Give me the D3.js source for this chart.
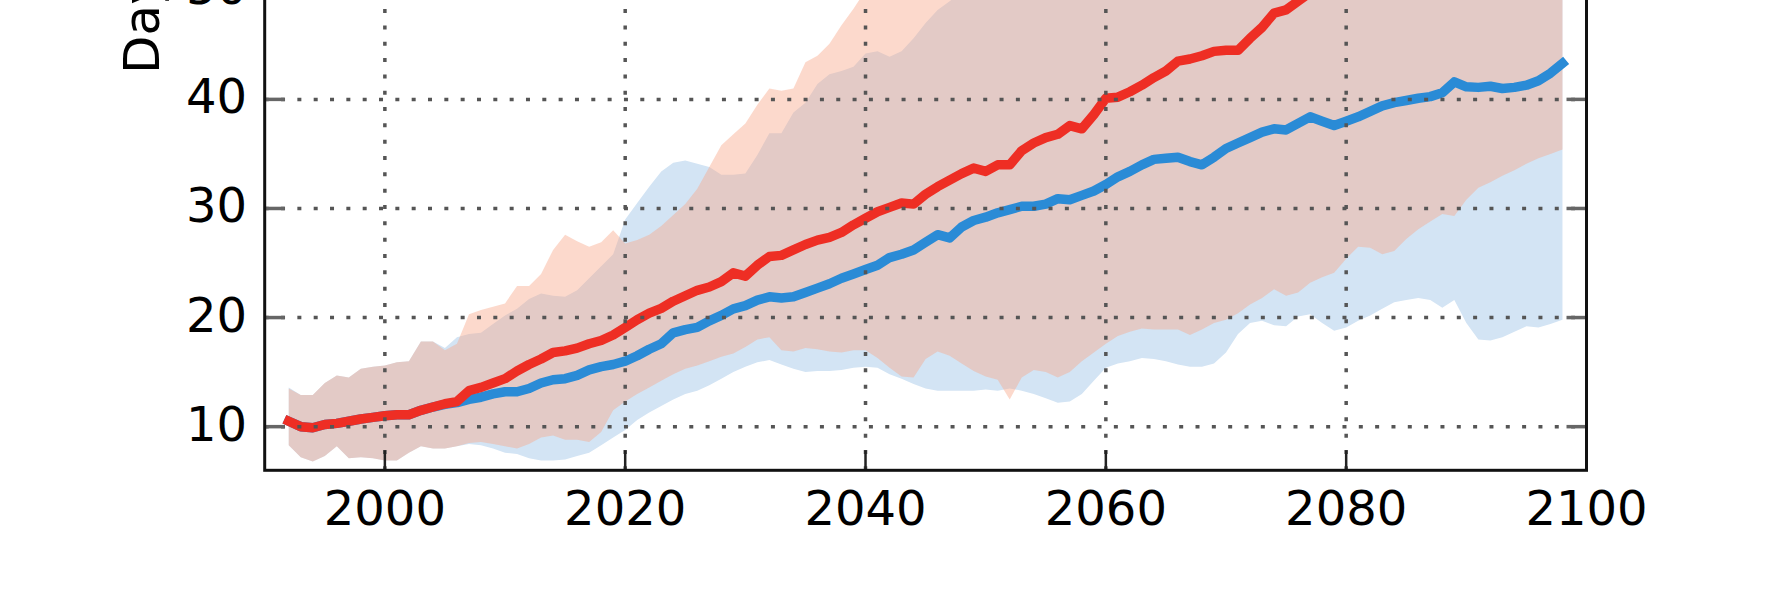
<!DOCTYPE html>
<html>
<head>
<meta charset="utf-8">
<script src="https://cdn.jsdelivr.net/npm/d3@7"></script>
<style>
  html, body { margin: 0; padding: 0; background: #fff; }
  svg { display: block; }
  text { font-family: "DejaVu Sans", sans-serif; fill: #000; }
</style>
</head>
<body>
<svg id="chart" width="1767" height="590"></svg>
<script>
// ---------------- data ----------------
const years = d3.range(1992, 2099);           // 1992 ... 2098
const xTicks = [2000, 2020, 2040, 2060, 2080, 2100];
const yTicks = [10, 20, 30, 40, 50, 60, 70, 80];
const yLabel = "Days per year";

// red scenario: ensemble mean
const redMean = [
  10.5, 10.0, 9.9, 10.2, 10.3, 10.5, 10.7, 10.85,
  11.0, 11.1, 11.1, 11.5, 11.8, 12.1, 12.3, 13.3, 13.6, 14.0,
  14.4, 15.1, 15.7, 16.2, 16.8, 16.95, 17.2, 17.6, 17.9, 18.4,
  19.1, 19.8, 20.4, 20.85, 21.5, 22.0, 22.5, 22.8, 23.3, 24.1,
  23.8, 24.8, 25.6, 25.7, 26.2, 26.7, 27.1, 27.35, 27.8, 28.5,
  29.1, 29.7, 30.1, 30.5, 30.4, 31.3, 32.0, 32.6, 33.2, 33.7,
  33.4, 34.0, 34.0, 35.3, 36.0, 36.5, 36.8, 37.6, 37.3, 38.6,
  40.1, 40.2, 40.7, 41.3, 42.0, 42.6, 43.5, 43.7, 44.0, 44.4,
  44.5, 44.5, 45.6, 46.6, 47.9, 48.2, 49.0, 49.8, 50.6, 51.2,
  51.8, 52.3, 52.9, 53.4, 53.8, 54.5, 55.0, 55.4, 56.1, 56.6,
  57.0, 57.5, 58.1, 58.5, 59.0, 59.6, 60.1, 60.8, 61.4
];
// red scenario: ensemble range
const redLow = [
  8.3, 7.2, 6.8, 7.3, 8.2, 7.1, 7.2, 7.1,
  6.9, 6.9, 7.6, 8.2, 8.0, 8.0, 8.2, 8.5, 8.6, 8.4,
  8.2, 8.0, 8.4, 9.0, 9.2, 8.8, 8.8, 8.6, 9.5, 11.5,
  12.3, 13.0, 13.6, 14.2, 14.8, 15.3, 15.6, 16.0, 16.4, 16.7,
  17.3, 18.0, 18.2, 17.0, 16.9, 17.2, 17.1, 16.9, 16.8, 17.0,
  17.0, 16.3, 15.4, 14.6, 14.5, 16.2, 16.9, 16.5, 15.8, 15.1,
  14.6, 14.3, 12.5, 14.5, 15.2, 15.0, 14.5, 15.0, 16.0, 16.8,
  17.6, 18.3, 18.7, 19.0, 18.9, 18.9, 18.9, 18.4, 18.9, 19.5,
  19.8, 20.4, 21.2, 21.8, 22.6, 22.0, 22.3, 23.2, 23.7, 24.1,
  25.4, 26.5, 26.4, 25.8, 26.1, 27.2, 28.1, 28.8, 29.5, 29.3,
  30.8, 31.9, 32.4, 33.0, 33.5, 34.1, 34.6, 35.0, 35.4
];
const redHigh = [
  13.5, 12.9, 12.9, 14.0, 14.7, 14.5, 15.3, 15.5,
  15.6, 15.9, 16.0, 17.8, 17.8, 17.0, 17.6, 20.3, 20.7, 21.0,
  21.3, 22.9, 22.9, 24.0, 26.2, 27.6, 27.0, 26.5, 26.9, 28.0,
  26.8, 27.1, 27.6, 28.4, 29.4, 30.4, 31.8, 33.8, 35.8, 36.8,
  37.8, 39.5, 41.0, 40.8, 41.0, 43.4, 44.0, 45.1, 46.8, 48.3,
  50.0, 51.2, 52.5, 53.6, 54.4, 55.8, 57.0, 58.1, 59.0, 60.2,
  61.0, 62.1, 63.0, 63.8, 64.9, 65.6, 66.4, 67.5, 68.3, 69.0,
  70.2, 71.0, 71.8, 72.5, 73.6, 74.2, 75.0, 75.8, 76.3, 77.0,
  77.8, 78.4, 79.0, 79.8, 80.5, 81.0, 81.6, 82.3, 82.8, 83.4,
  84.0, 84.5, 85.0, 85.6, 86.1, 86.5, 87.0, 87.4, 87.9, 88.3,
  88.6, 89.0, 89.3, 89.5, 89.8, 90.0, 90.0, 90.0, 90.0
];
// blue scenario: ensemble mean
const blueMean = [
  10.5, 10.0, 9.9, 10.2, 10.3, 10.5, 10.7, 10.85,
  11.0, 11.1, 11.1, 11.5, 11.8, 12.05, 12.2, 12.5, 12.7, 13.0,
  13.2, 13.2, 13.5, 14.0, 14.3, 14.4, 14.7, 15.2, 15.5, 15.7,
  16.0, 16.5, 17.1, 17.6, 18.6, 18.9, 19.1, 19.7, 20.2, 20.8,
  21.1, 21.6, 21.9, 21.8, 21.9, 22.3, 22.7, 23.1, 23.6, 24.0,
  24.4, 24.8, 25.5, 25.8, 26.2, 26.9, 27.6, 27.3, 28.3, 28.9,
  29.2, 29.6, 29.9, 30.2, 30.2, 30.4, 30.9, 30.8, 31.2, 31.6,
  32.2, 32.9, 33.4, 34.0, 34.5, 34.6, 34.7, 34.3, 34.0, 34.7,
  35.5, 36.0, 36.5, 37.0, 37.3, 37.2, 37.8, 38.4, 38.0, 37.6,
  38.0, 38.4, 38.9, 39.4, 39.7, 39.9, 40.1, 40.25, 40.6, 41.6,
  41.15, 41.1, 41.2, 41.0, 41.1, 41.3, 41.7, 42.4, 43.3
];
// blue scenario: ensemble range
const blueLow = [
  8.3, 7.2, 6.8, 7.3, 8.2, 7.1, 7.2, 7.1,
  6.9, 6.9, 7.6, 8.2, 8.0, 8.0, 8.2, 8.4, 8.3, 8.0,
  7.6, 7.5, 7.1, 6.9, 6.9, 7.0, 7.3, 7.6, 8.3, 9.0,
  9.7, 10.6, 11.3, 11.9, 12.5, 13.0, 13.3, 13.8, 14.4, 15.0,
  15.5, 15.9, 16.1, 15.7, 15.3, 15.0, 15.1, 15.1, 15.2, 15.4,
  15.5, 15.4, 14.8, 14.4, 13.9, 13.5, 13.3, 13.3, 13.3, 13.3,
  13.4, 13.3, 13.5, 13.3, 13.0, 12.6, 12.2, 12.3, 13.0, 14.2,
  15.4, 15.8, 16.0, 16.3, 16.2, 16.0, 15.7, 15.5, 15.5, 15.8,
  16.8, 18.5, 19.5, 19.7, 19.3, 19.2, 20.1, 20.3, 19.5, 18.8,
  19.1, 19.7, 20.2, 20.8, 21.4, 21.6, 21.8, 21.6, 20.9, 21.6,
  19.5, 18.0, 17.9, 18.2, 18.7, 19.2, 19.1, 19.4, 19.8
];
const blueHigh = [
  13.6, 12.9, 12.9, 14.0, 14.7, 14.5, 15.3, 15.5,
  15.6, 15.9, 16.0, 17.8, 17.8, 17.2, 18.2, 18.5, 18.6, 19.4,
  20.2, 20.8, 21.7, 22.2, 22.0, 21.9, 22.5, 23.6, 24.7, 25.8,
  29.0, 30.5, 32.0, 33.4, 34.2, 34.4, 34.1, 33.8, 33.1, 33.1,
  33.2, 34.9, 36.9, 36.9, 38.8, 39.7, 41.4, 42.3, 42.6, 43.0,
  44.2, 44.4, 43.9, 44.4, 45.6, 47.0, 48.2, 49.0, 49.8, 50.6,
  51.4, 52.0, 52.8, 53.5, 54.0, 54.8, 55.5, 56.0, 56.8, 57.4,
  58.0, 58.7, 59.3, 60.0, 60.5, 61.0, 61.8, 62.2, 62.6, 63.3,
  63.8, 64.5, 65.2, 65.8, 66.4, 66.9, 67.5, 68.0, 68.4, 69.0,
  69.5, 70.0, 70.3, 70.8, 71.2, 71.6, 72.0, 72.5, 72.8, 73.2,
  73.5, 73.8, 74.2, 74.5, 74.8, 75.0, 75.3, 75.6, 76.0
];

// ---------------- layout ----------------
const svg = d3.select("#chart");
const pLeft = 264.7, pRight = 1586.5, pBottom = 470.3, pTop = -446.1;
const x = d3.scaleLinear().domain([1990, 2100]).range([pLeft, pRight]);
const y = d3.scaleLinear().domain([6, 90]).range([pBottom, pTop]);

const rows = years.map((yr, i) => ({
  yr, rm: redMean[i], rl: redLow[i], rh: redHigh[i],
  bm: blueMean[i], bl: blueLow[i], bh: blueHigh[i]
}));

svg.append("defs").append("clipPath").attr("id", "plotclip")
  .append("rect").attr("x", pLeft).attr("y", pTop)
  .attr("width", pRight - pLeft).attr("height", pBottom - pTop);

const plot = svg.append("g").attr("clip-path", "url(#plotclip)");

// bands
plot.append("path").datum(rows)
  .attr("fill", "#d3e4f4")
  .attr("d", d3.area().x(d => x(d.yr)).y0(d => y(d.bl)).y1(d => y(d.bh)));
plot.append("path").datum(rows)
  .attr("fill", "#f8a788").attr("fill-opacity", 0.43)
  .attr("d", d3.area().x(d => x(d.yr)).y0(d => y(d.rl)).y1(d => y(d.rh)));

// mean lines
plot.append("path").datum(rows)
  .attr("fill", "none").attr("stroke", "#2a8bd6").attr("stroke-width", 9.5)
  .attr("stroke-linejoin", "round").attr("stroke-linecap", "square")
  .attr("d", d3.line().x(d => x(d.yr)).y(d => y(d.bm)));
plot.append("path").datum(rows)
  .attr("fill", "none").attr("stroke", "#ee2e24").attr("stroke-width", 9.5)
  .attr("stroke-linejoin", "round").attr("stroke-linecap", "square")
  .attr("d", d3.line().x(d => x(d.yr)).y(d => y(d.rm)));

// grid (dotted, drawn over data)
const grid = svg.append("g");
xTicks.filter(t => t < 2100).forEach(t => {
  grid.append("line")
    .attr("x1", x(t)).attr("x2", x(t)).attr("y1", pBottom).attr("y2", pTop)
    .attr("stroke", "#555").attr("stroke-width", 3.5)
    .attr("stroke-dasharray", "4 12.33");
});
yTicks.forEach(t => {
  grid.append("line")
    .attr("x1", pLeft).attr("x2", pRight).attr("y1", y(t)).attr("y2", y(t))
    .attr("stroke", "#555").attr("stroke-width", 3.5)
    .attr("stroke-dasharray", "4 12.33");
});

// ticks (inward)
const ticks = svg.append("g");
yTicks.forEach(t => {
  ticks.append("line").attr("x1", pLeft).attr("x2", pLeft + 20)
    .attr("y1", y(t)).attr("y2", y(t)).attr("stroke", "#666").attr("stroke-width", 3.5);
  ticks.append("line").attr("x1", pRight).attr("x2", pRight - 20)
    .attr("y1", y(t)).attr("y2", y(t)).attr("stroke", "#666").attr("stroke-width", 3.5);
});
xTicks.forEach(t => {
  ticks.append("line").attr("x1", x(t)).attr("x2", x(t))
    .attr("y1", pBottom).attr("y2", pBottom - 20).attr("stroke", "#222").attr("stroke-width", 2.5);
});

// spines
svg.append("rect")
  .attr("x", pLeft).attr("y", pTop).attr("width", pRight - pLeft).attr("height", pBottom - pTop)
  .attr("fill", "none").attr("stroke", "#111").attr("stroke-width", 3);

// tick labels
const labels = svg.append("g").style("font-size", "48px");
yTicks.forEach(t => {
  labels.append("text").attr("x", 247).attr("y", y(t) + 14)
    .attr("text-anchor", "end").text(t);
});
xTicks.forEach(t => {
  labels.append("text").attr("x", x(t)).attr("y", 525)
    .attr("text-anchor", "middle").text(t);
});

// y-axis label (rotated)
svg.append("text")
  .attr("transform", "translate(159,74) rotate(-90)")
  .attr("text-anchor", "start")
  .style("font-size", "50px")
  .text(yLabel);
</script>
</body>
</html>
